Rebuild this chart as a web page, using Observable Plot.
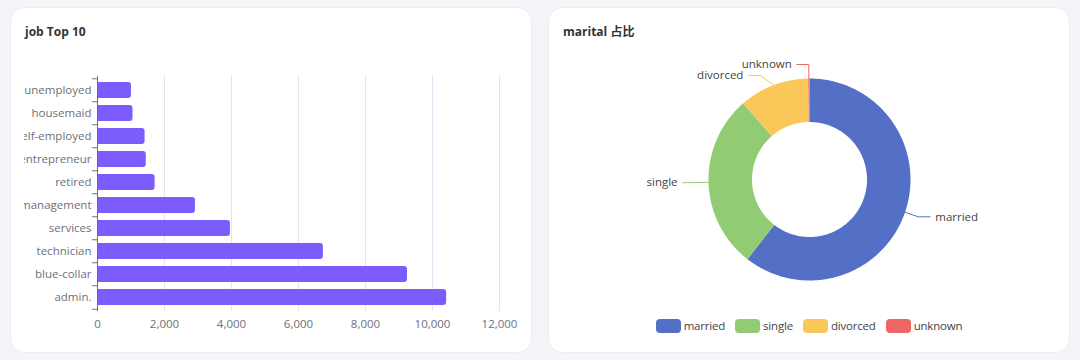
<!DOCTYPE html>
<html><head><meta charset="utf-8">
<script src="https://cdn.jsdelivr.net/npm/d3@7"></script>
<script src="https://cdn.jsdelivr.net/npm/@observablehq/plot@0.6"></script>
<style>
body{margin:0;background:#f4f5f9;width:1080px;height:360px;overflow:hidden;font-family:"Open Sans","Noto Sans CJK SC",sans-serif;}
.card{position:absolute;top:8px;width:520px;height:344px;background:#fff;border-radius:14px;box-shadow:0 0 0 1px #eceef3;}
.title{position:absolute;left:14px;top:16px;line-height:16px;font-size:12px;font-weight:700;color:#333;}
.legend{position:absolute;left:0;right:0;top:310px;display:flex;justify-content:center;gap:10px;font-size:11.5px;letter-spacing:-0.2px;color:#444;line-height:16px;}
.legend .item{display:flex;align-items:center;}
.legend .sw{width:25px;height:14px;border-radius:4px;margin-right:3px;}
</style></head>
<body>
<div class="card" id="left" style="left:11px"><div class="title">job Top 10</div></div>
<div class="card" id="right" style="left:549px"><div class="title">marital 占比</div></div>
<script>
// ---- data ----
const jobNames = ["admin.","blue-collar","technician","services","management","retired","entrepreneur","self-employed","housemaid","unemployed"];
const jobCounts = [10422, 9254, 6743, 3969, 2924, 1720, 1456, 1421, 1060, 1014];
const xTicks = [0, 2000, 4000, 6000, 8000, 10000, 12000];
const barColor = "#7c5cfc";

const maritalLabels = ["married","single","divorced","unknown"];
const maritalCounts = [24928, 11568, 4612, 80];
const maritalColors = ["#5470c6","#91cc75","#fac858","#ee6666"];

const fontFam = "'Open Sans','Noto Sans CJK SC',sans-serif";

// ---- bar chart ----
const jobs = jobNames.map((job, i) => ({job, count: jobCounts[i]}));
const bH = 290, bTop = 16, bBottom = 39;
const step = (bH - bTop - bBottom) / jobNames.length;
const axisColor = "#6e7079";
const yOrder = jobNames.slice().reverse();
const bar = Plot.plot({
  width: 506, height: bH,
  marginLeft: 73, marginRight: 31, marginTop: bTop, marginBottom: bBottom,
  style: {fontSize: "11.5px", fontFamily: fontFam, color: axisColor, background: "transparent", overflow: "hidden"},
  x: {domain: [0, 12000]},
  y: {domain: yOrder, paddingInner: 0.32, paddingOuter: 0.16},
  marks: [
    Plot.gridX(xTicks.slice(1), {stroke: "#e0e6f1", strokeOpacity: 1}),
    Plot.barX(jobs, {x: "count", y: "job", fill: barColor, rx2: 3}),
    Plot.ruleX([0], {stroke: axisColor}),
    Plot.axisX({ticks: xTicks, tickSize: 0, tickPadding: 8, tickFormat: d3.format(","), label: null, fill: axisColor}),
    Plot.axisY({tickSize: 0, tickPadding: 6, label: null, fill: axisColor}),
    Plot.axisY({tickSize: 5, text: null, label: null, dy: -step / 2, stroke: axisColor}),
    Plot.axisY({ticks: [yOrder[yOrder.length - 1]], tickSize: 5, text: null, label: null, dy: step / 2, stroke: axisColor})
  ]
});
bar.style.position = "absolute"; bar.style.left = "13px"; bar.style.top = "52px";
document.getElementById("left").appendChild(bar);

// ---- donut chart ----
const outerR = 101, innerR = 57.5, len1 = 14, len2 = 12, minGap = 11;
const pW = 520, pH = 270, cx = 260, cy = 139;
const arcs = d3.pie().sort(null).value(d => d.count)(maritalLabels.map((key, i) => ({key, count: maritalCounts[i]})));
const slicePts = [], leaderPts = [], labelPts = [];
const R1 = outerR + len1;
const lab = [];
for (const a of arcs) {
  const key = a.data.key;
  const n = Math.max(2, Math.ceil((a.endAngle - a.startAngle) / (Math.PI / 180)));
  for (let i = 0; i <= n; i++) {
    const t = a.startAngle + (a.endAngle - a.startAngle) * i / n;
    slicePts.push({key, x: outerR * Math.sin(t), y: outerR * Math.cos(t)});
  }
  for (let i = n; i >= 0; i--) {
    const t = a.startAngle + (a.endAngle - a.startAngle) * i / n;
    slicePts.push({key, x: innerR * Math.sin(t), y: innerR * Math.cos(t)});
  }
  const m = (a.startAngle + a.endAngle) / 2;
  lab.push({key, m, right: Math.sin(m) >= 0, y: R1 * Math.cos(m)});
}
// simple overlap avoidance per side (push lower labels down)
for (const side of [true, false]) {
  const s = lab.filter(d => d.right === side).sort((a, b) => b.y - a.y);
  for (let i = 1; i < s.length; i++) if (s[i - 1].y - s[i].y < minGap) s[i].y = s[i - 1].y - minGap;
}
for (const d of lab) {
  const sgn = d.right ? 1 : -1;
  const ex = Math.abs(d.y) < R1 ? sgn * Math.sqrt(R1 * R1 - d.y * d.y) : 0;
  const hx = ex + sgn * len2;
  leaderPts.push({key: d.key, x: outerR * Math.sin(d.m), y: outerR * Math.cos(d.m)}, {key: d.key, x: ex, y: d.y}, {key: d.key, x: hx, y: d.y});
  labelPts.push({key: d.key, x: hx, y: d.y, right: d.right});
}
const pie = Plot.plot({
  width: pW, height: pH, margin: 0,
  style: {fontSize: "11.5px", fontFamily: fontFam, background: "transparent"},
  x: {domain: [-cx, pW - cx], axis: null},
  y: {domain: [-(pH - cy), cy], axis: null},
  color: {domain: maritalLabels, range: maritalColors},
  marks: [
    Plot.line(slicePts, {x: "x", y: "y", fill: "key", stroke: "none"}),
    Plot.line(leaderPts, {x: "x", y: "y", z: "key", stroke: "key", strokeWidth: 1}),
    Plot.text(labelPts.filter(d => d.right), {x: "x", y: "y", text: "key", textAnchor: "start", dx: 5, fill: "#444"}),
    Plot.text(labelPts.filter(d => !d.right), {x: "x", y: "y", text: "key", textAnchor: "end", dx: -5, fill: "#444"})
  ]
});
pie.style.position = "absolute"; pie.style.left = "0px"; pie.style.top = "32px";
const right = document.getElementById("right");
right.appendChild(pie);

const legend = document.createElement("div");
legend.className = "legend";
maritalLabels.forEach((k, i) => {
  const it = document.createElement("div"); it.className = "item";
  const sw = document.createElement("div"); sw.className = "sw"; sw.style.background = maritalColors[i];
  const tx = document.createElement("span"); tx.textContent = k;
  it.appendChild(sw); it.appendChild(tx); legend.appendChild(it);
});
right.appendChild(legend);
</script>
</body></html>
